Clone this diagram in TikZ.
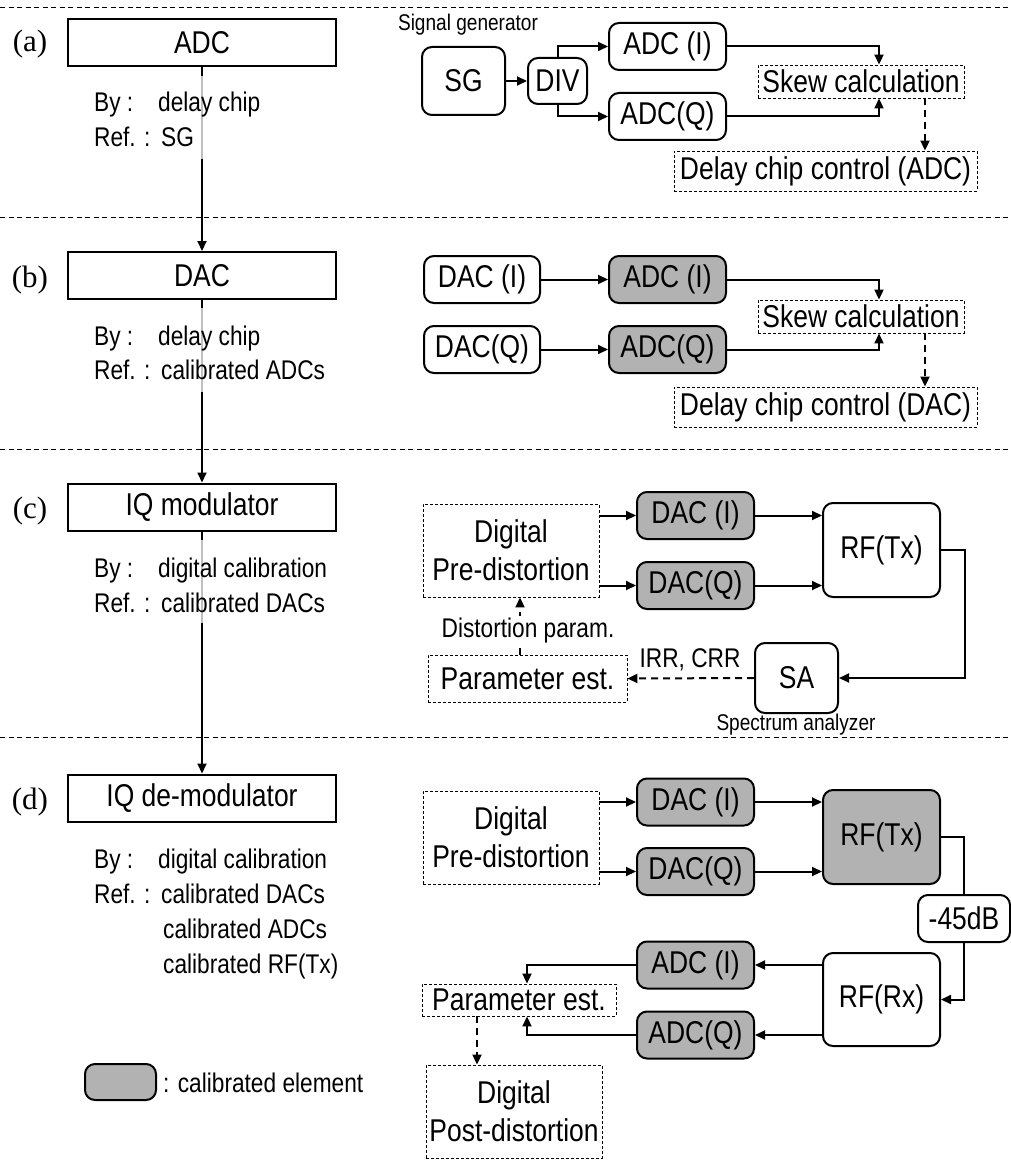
\documentclass[tikz,border=0pt]{standalone}
\usepackage{fontspec}
\setmainfont{Liberation Sans}[FakeStretch=0.84]
\newfontfamily\tagfont{Liberation Serif}
\usetikzlibrary{arrows.meta}

\newcommand\bigfs{\fontsize{31.5}{38}\selectfont}
\newcommand\midfs{\fontsize{27}{30}\selectfont}
\newcommand\smallfs{\fontsize{22.7}{25}\selectfont}

\tikzset{
  stage/.style={draw, line width=2pt, minimum width=268pt, minimum height=47pt,
                inner sep=0pt, font=\bigfs},
  tag/.style={inner sep=0pt, anchor=base, font=\tagfont\fontsize{31}{34}\selectfont},
  rbox/.style={draw, line width=2pt, rounded corners=10pt, inner sep=0pt,
               font=\bigfs, align=center},
  cal/.style={rbox, fill=black!30},
  dbox/.style={draw, line width=0.9pt, dash pattern=on 3pt off 2pt, inner sep=0pt,
               font=\bigfs, align=center},
  wire/.style={line width=2pt, -{Triangle[length=10pt,width=9pt]}},
  dwire/.style={wire, dash pattern=on 7pt off 5pt},
  divider/.style={line width=1pt, dash pattern=on 5pt off 3.5pt},
  note/.style={inner sep=0pt, anchor=base west, font=\midfs},
  small/.style={inner sep=0pt, anchor=base, font=\smallfs},
}

\begin{document}
\begin{tikzpicture}[x=1pt,y=-1pt]
\useasboundingbox (0,0) rectangle (1011,1169);

% section dividers
\draw[divider] (0,8) -- (1011,8);
\draw[divider] (0,217) -- (1011,217);
\draw[divider] (0,449) -- (1011,449);
\draw[divider] (0,737) -- (1011,737);

% ---------- left column: calibration order ----------
\node[stage] (adcL) at (202,42.5) {ADC};
\node[stage] (dacL) at (202,275.5) {DAC};
\node[stage] (modL) at (202,507) {IQ modulator};
\node[stage] (demL) at (202,798) {IQ de-modulator};

\node[tag] (tagA) at (30,52) {(a)};
\node[tag] (tagB) at (30,287) {(b)};
\node[tag] (tagC) at (30,518) {(c)};
\node[tag] (tagD) at (30,809) {(d)};

\draw[wire] (adcL.south) -- (dacL.north);
\draw[wire] (dacL.south) -- (modL.north);
\draw[wire] (modL.south) -- (demL.north);

% translucent backing behind the notes
\fill[white, fill opacity=0.75] (90,76) rectangle (330,159);
\fill[white, fill opacity=0.75] (90,308) rectangle (330,392);
\fill[white, fill opacity=0.75] (90,540) rectangle (330,623);

\node[note] (byA)  at (94,112) {By :};
\node[note] (byAv) at (158,112) {delay chip};
\node[note] (rfA)  at (94,147) {Ref. :};
\node[note] (rfAv) at (161,147) {SG};

\node[note] (byB)  at (94,345) {By :};
\node[note] (byBv) at (158,345) {delay chip};
\node[note] (rfB)  at (94,379) {Ref. :};
\node[note] (rfBv) at (161,379) {calibrated ADCs};

\node[note] (byC)  at (94,577) {By :};
\node[note] (byCv) at (158,577) {digital calibration};
\node[note] (rfC)  at (94,612) {Ref. :};
\node[note] (rfCv) at (161,612) {calibrated DACs};

\node[note] (byD)  at (94,868) {By :};
\node[note] (byDv) at (158,868) {digital calibration};
\node[note] (rfD)  at (94,903) {Ref. :};
\node[note] (rfDv) at (161,903) {calibrated DACs};
\node[note] (rfDw) at (163,938) {calibrated ADCs};
\node[note] (rfDx) at (163,973) {calibrated RF(Tx)};

% legend
\node[cal, minimum width=71pt, minimum height=36pt] (legbox) at (120.5,1082) {};
\node[note] (legtxt) at (163,1092) {: calibrated element};

% ---------- (a) ADC skew ----------
\node[small] (sglabel) at (468,31) {Signal generator};
\node[rbox, minimum width=83pt, minimum height=68pt] (sgA) at (463.5,81) {SG};
\node[rbox, minimum width=59pt, minimum height=46pt] (divA) at (557.5,81) {DIV};
\node[rbox, minimum width=117pt, minimum height=47pt] (adcIa) at (667.5,46.5) {ADC (I)};
\node[rbox, minimum width=117pt, minimum height=47pt] (adcQa) at (667.5,116.5) {ADC(Q)};
\node[dbox, minimum width=206pt, minimum height=33pt] (skewA) at (861,81.5) {Skew calculation};
\node[dbox, minimum width=303pt, minimum height=40pt] (delayA) at (825.5,171) {Delay chip control (ADC)};

\draw[wire] (sgA.east) -- (divA.west);
\draw[wire] (divA.north) |- (adcIa.west);
\draw[wire] (divA.south) |- (adcQa.west);
\draw[wire] (adcIa.east) -| ([xshift=18pt]skewA.north);
\draw[wire] (adcQa.east) -| ([xshift=18pt]skewA.south);
\coordinate (tapA) at ([xshift=64pt]skewA.south);
\draw[dwire] (tapA) -- (tapA |- delayA.north);

% ---------- (b) DAC skew ----------
\node[rbox, minimum width=116pt, minimum height=47pt] (dacIb) at (482,279.5) {DAC (I)};
\node[rbox, minimum width=116pt, minimum height=47pt] (dacQb) at (482,349.5) {DAC(Q)};
\node[cal, minimum width=117pt, minimum height=47pt] (adcIb) at (667.5,279.5) {ADC (I)};
\node[cal, minimum width=117pt, minimum height=47pt] (adcQb) at (667.5,349.5) {ADC(Q)};
\node[dbox, minimum width=206pt, minimum height=33pt] (skewB) at (861,316.5) {Skew calculation};
\node[dbox, minimum width=303pt, minimum height=40pt] (delayB) at (825.5,407) {Delay chip control (DAC)};

\draw[wire] (dacIb.east) -- (adcIb.west);
\draw[wire] (dacQb.east) -- (adcQb.west);
\draw[wire] (adcIb.east) -| ([xshift=18pt]skewB.north);
\draw[wire] (adcQb.east) -| ([xshift=18pt]skewB.south);
\coordinate (tapB) at ([xshift=64pt]skewB.south);
\draw[dwire] (tapB) -- (tapB |- delayB.north);

% ---------- (c) IQ modulator ----------
\node[dbox, minimum width=176pt, minimum height=93pt] (dpdC) at (511,550.5) {Digital\\Pre-distortion};
\node[cal, minimum width=117pt, minimum height=47pt] (dacIc) at (695.5,515.5) {DAC (I)};
\node[cal, minimum width=117pt, minimum height=47pt] (dacQc) at (695.5,585.5) {DAC(Q)};
\node[rbox, minimum width=117pt, minimum height=94pt] (rftxC) at (881.5,550) {RF(Tx)};
\node[rbox, minimum width=83pt, minimum height=70pt] (saC) at (796.5,678) {SA};
\node[small] (salabel) at (796,730) {Spectrum analyzer};
\node[dbox, minimum width=199pt, minimum height=47pt] (paramC) at (527.5,678.5) {Parameter est.};

\draw[wire] (dacIc.west -| dpdC.east) -- (dacIc.west);
\draw[wire] (dacQc.west -| dpdC.east) -- (dacQc.west);
\draw[wire] (dacIc.east) -- (dacIc.east -| rftxC.west);
\draw[wire] (dacQc.east) -- (dacQc.east -| rftxC.west);
\coordinate (turnC) at ([xshift=24pt]rftxC.east);
\draw[wire] (rftxC.east) -- (turnC) |- (saC.east);
\draw[dwire] (saC.west) -- (paramC.east);
\node[note, anchor=base] (irr) at (690,667) {IRR, CRR};
\coordinate (tapC) at ([xshift=-7.5pt]paramC.north);
\draw[dwire] (tapC) -- (tapC |- dpdC.south);
\node[note, anchor=base, fill=white, inner sep=1pt] (dparam) at (528,637) {Distortion param.};

% ---------- (d) IQ de-modulator ----------
\node[dbox, minimum width=176pt, minimum height=93pt] (dpdD) at (511,837.5) {Digital\\Pre-distortion};
\node[cal, minimum width=117pt, minimum height=47pt] (dacId) at (695.5,802) {DAC (I)};
\node[cal, minimum width=117pt, minimum height=47pt] (dacQd) at (695.5,871.5) {DAC(Q)};
\node[cal, minimum width=117pt, minimum height=94pt] (rftxD) at (881.5,837) {RF(Tx)};
\node[rbox, minimum width=92pt, minimum height=47pt] (attD) at (964,918.5) {-45dB};
\node[rbox, minimum width=117pt, minimum height=93pt] (rfrxD) at (881.5,999.5) {RF(Rx)};
\node[cal, minimum width=117pt, minimum height=47pt] (adcId) at (695.5,965) {ADC (I)};
\node[cal, minimum width=117pt, minimum height=47pt] (adcQd) at (695.5,1035) {ADC(Q)};
\node[dbox, minimum width=194pt, minimum height=32pt] (paramD) at (519,1000) {Parameter est.};
\node[dbox, minimum width=176pt, minimum height=93pt] (postD) at (514,1111.5) {Digital\\Post-distortion};

\draw[wire] (dacId.west -| dpdD.east) -- (dacId.west);
\draw[wire] (dacQd.west -| dpdD.east) -- (dacQd.west);
\draw[wire] (dacId.east) -- (dacId.east -| rftxD.west);
\draw[wire] (dacQd.east) -- (dacQd.east -| rftxD.west);
\draw[line width=2pt] (rftxD.east) -| (attD.north);
\draw[wire] (attD.south) |- (rfrxD.east);
\draw[wire] (adcId.east -| rfrxD.west) -- (adcId.east);
\draw[wire] (adcQd.east -| rfrxD.west) -- (adcQd.east);
\draw[wire] (adcId.west) -| ([xshift=8pt]paramD.north);
\draw[wire] (adcQd.west) -| ([xshift=8pt]paramD.south);
\coordinate (tapD) at ([xshift=-42pt]paramD.south);
\draw[dwire] (tapD) -- (tapD |- postD.north);
\end{tikzpicture}
\end{document}
